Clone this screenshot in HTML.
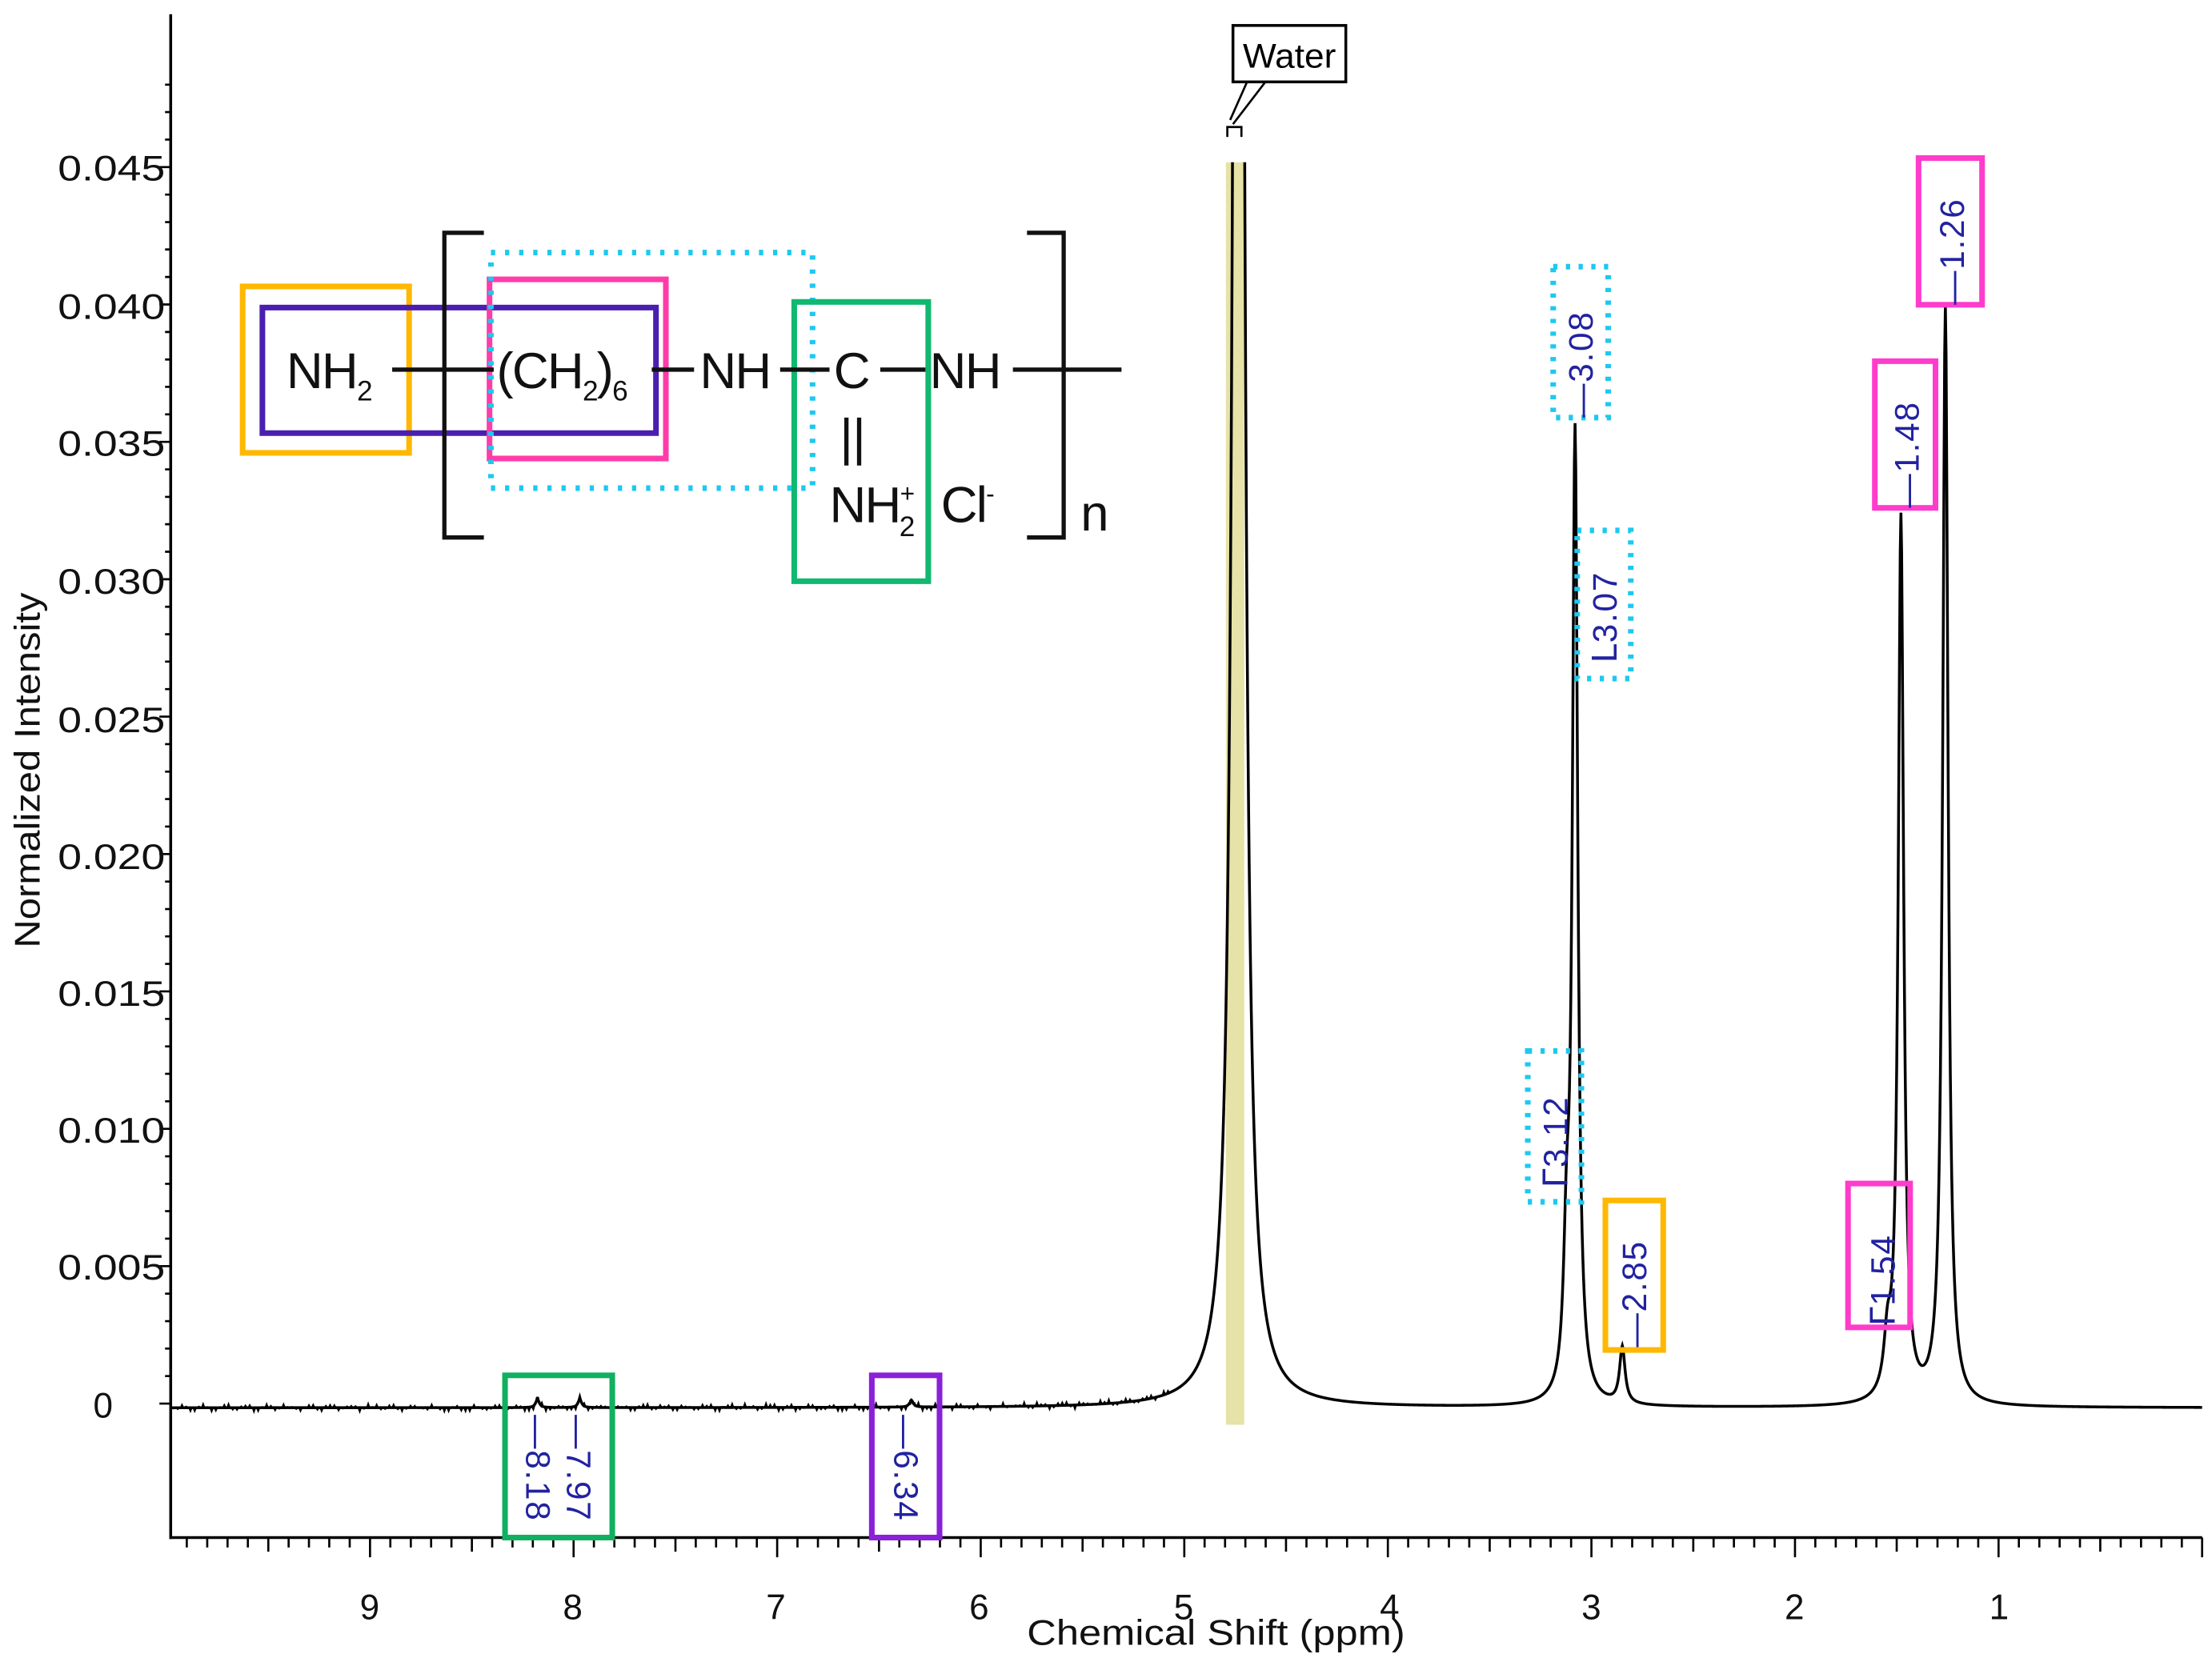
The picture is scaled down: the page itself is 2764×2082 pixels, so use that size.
<!DOCTYPE html>
<html><head><meta charset="utf-8"><style>
html,body{margin:0;padding:0;background:#fff}
svg{display:block}
text{font-family:"Liberation Sans",Arial,sans-serif}
</style></head><body>
<svg id="s" width="2764" height="2082" viewBox="0 0 1568 1181" xmlns="http://www.w3.org/2000/svg">
<defs><clipPath id="c"><rect x="121" y="115" width="1445" height="990"/></clipPath></defs>
<rect x="869" y="115" width="13" height="895" fill="#e6e2a8"/>
<g id="axes" stroke="#000" fill="none">
<line x1="121" y1="10" x2="121" y2="1091" stroke-width="2"/>
<line x1="120" y1="1090" x2="1561" y2="1090" stroke-width="2"/>
</g>
<g id="ticks" stroke="#000" stroke-width="1.5"></g>
<g font-size="25" fill="#111" text-anchor="end">
<text x="117" y="128" textLength="76" lengthAdjust="spacingAndGlyphs">0.045</text>
<text x="117" y="226" textLength="76" lengthAdjust="spacingAndGlyphs">0.040</text>
<text x="117" y="323" textLength="76" lengthAdjust="spacingAndGlyphs">0.035</text>
<text x="117" y="421" textLength="76" lengthAdjust="spacingAndGlyphs">0.030</text>
<text x="117" y="519" textLength="76" lengthAdjust="spacingAndGlyphs">0.025</text>
<text x="117" y="616" textLength="76" lengthAdjust="spacingAndGlyphs">0.020</text>
<text x="117" y="713" textLength="76" lengthAdjust="spacingAndGlyphs">0.015</text>
<text x="117" y="810" textLength="76" lengthAdjust="spacingAndGlyphs">0.010</text>
<text x="117" y="907" textLength="76" lengthAdjust="spacingAndGlyphs">0.005</text>
<text x="80" y="1005">0</text>
</g>
<g font-size="25" fill="#111" text-anchor="middle">
<text x="262" y="1148">9</text><text x="406" y="1148">8</text><text x="550" y="1148">7</text><text x="694" y="1148">6</text><text x="839" y="1148">5</text><text x="985" y="1148">4</text><text x="1128" y="1148">3</text><text x="1272" y="1148">2</text><text x="1417" y="1148">1</text>
<text x="862" y="1166" textLength="268" lengthAdjust="spacingAndGlyphs">Chemical Shift (ppm)</text>
<text transform="translate(28,546) rotate(-90)" textLength="252" lengthAdjust="spacingAndGlyphs">Normalized Intensity</text>
</g>
<path id="spec" d="" stroke="#000" stroke-width="2" fill="none" clip-path="url(#c)"/>
<rect x="874" y="18" width="80" height="40" fill="#fff" stroke="#000" stroke-width="2"/>
<text x="914" y="48" font-size="24" text-anchor="middle" textLength="66" lengthAdjust="spacingAndGlyphs">Water</text>
<path d="M884 58 L872 85 M897 58 L874 88 M870 97 L870 90 L880 90 L880 97" stroke="#000" stroke-width="1.5" fill="none"/>
<g fill="none" stroke-width="4">
<rect x="1101" y="189" width="39" height="107" stroke="#1ec8f0" stroke-dasharray="3 6"/>
<rect x="1118" y="376" width="38" height="105" stroke="#1ec8f0" stroke-dasharray="3 6"/>
<rect x="1083" y="745" width="38" height="107" stroke="#1ec8f0" stroke-dasharray="3 6"/>
<rect x="1138" y="851" width="41" height="106" stroke="#ffb800"/>
<rect x="1310" y="839" width="44" height="102" stroke="#ff3ccc"/>
<rect x="1329" y="256" width="43" height="104" stroke="#ff3ccc"/>
<rect x="1360" y="112" width="45" height="104" stroke="#ff3ccc"/>
<rect x="358" y="975" width="76" height="115" stroke="#10b060"/>
<rect x="618" y="975" width="48" height="115" stroke="#8a20d8"/>
</g>
<g font-size="24" fill="#2222a0" letter-spacing="1">
<text transform="translate(1129,296) rotate(-90)">—3.08</text>
<text transform="translate(1146,470) rotate(-90)">ᒪ3.07</text>
<text transform="translate(1111,842) rotate(-90)">ᒥ3.12</text>
<text transform="translate(1167,955) rotate(-90)">—2.85</text>
<text transform="translate(1343,940) rotate(-90)">ᒥ1.54</text>
<text transform="translate(1360,360) rotate(-90)">—1.48</text>
<text transform="translate(1392,216) rotate(-90)">—1.26</text>
<text transform="translate(373,1003) rotate(90)">—8.18</text>
<text transform="translate(402,1003) rotate(90)">—7.97</text>
<text transform="translate(634,1003) rotate(90)">—6.34</text>
</g>
<g fill="none" stroke-width="4">
<rect x="172" y="203" width="118" height="118" stroke="#ffb800"/>
<rect x="186" y="218" width="279" height="89" stroke="#4a1fb0"/>
<rect x="347" y="198" width="125" height="127" stroke="#ff3ca8"/>
<rect x="348" y="179" width="228" height="167" stroke="#1ec8f0" stroke-dasharray="3 7"/>
<rect x="563" y="214" width="95" height="198" stroke="#10b870"/>
</g>
<g stroke="#111" stroke-width="3" fill="none">
<path d="M343 165 H315 V381 H343"/>
<path d="M728 165 H754 V381 H728"/>
<line x1="278" y1="262" x2="350" y2="262"/>
<line x1="462" y1="262" x2="492" y2="262"/>
<line x1="553" y1="262" x2="588" y2="262"/>
<line x1="624" y1="262" x2="656" y2="262"/>
<line x1="718" y1="262" x2="795" y2="262"/>
<line x1="600" y1="296" x2="600" y2="330"/>
<line x1="609" y1="296" x2="609" y2="330"/>
</g>
<g font-size="36" fill="#111" letter-spacing="-1">
<text x="203" y="275">NH<tspan font-size="20" dy="9">2</tspan></text>
<text x="352" y="275">(CH<tspan font-size="20" dy="9">2</tspan><tspan dy="-9">)</tspan><tspan font-size="20" dy="9">6</tspan></text>
<text x="496" y="275">NH</text>
<text x="591" y="275">C</text>
<text x="659" y="275">NH</text>
<text x="588" y="370">NH<tspan font-size="18" dy="-14">+</tspan><tspan font-size="20" dx="-10" dy="24">2</tspan></text>
<text x="667" y="370">Cl<tspan font-size="18" dy="-14">-</tspan></text>
<text x="766" y="376">n</text>
</g>
</svg>
<script>
(function(){
var NS="http://www.w3.org/2000/svg",t=document.getElementById('ticks'),d='';
function ln(a,b,c,e){d+='M'+a+' '+b+'L'+c+' '+e;}
for(var i=0;i<=99;i++){var x=1561-14.43*i;var L=(i%10==0)?14:(i%5==0?10:7);ln(x.toFixed(1),1090,x.toFixed(1),1090+L);}
for(var v=0;v<=48;v++){var y=995-19.48*v;if(y<15)break;var L=(v%5==0)?8:4;ln(121-L,y.toFixed(1),121,y.toFixed(1));}
var p=document.createElementNS(NS,'path');p.setAttribute('d',d);t.appendChild(p);
var pk=[[878,2500,3.2],[1116.5,684,2.3],[1110.5,90,2.5],[1150,40,2.3],[1338,36,3],[1347.5,627,2.3],[1379,778,2.3],[381,6,1.5],[411,6,1.5],[646,5,1.5]];
var s='';
for(var x=121;x<=1561;x+=0.5){var y=998;for(var k=0;k<pk.length;k++){var q=pk[k],dx=x-q[0];y-=q[1]*q[2]*q[2]/(q[2]*q[2]+dx*dx);}
if(x<830&&Math.floor(x)%3==0&&x%1==0)y+=(Math.sin(x*12.9898)*43758.5453%1)*1.5;
s+=(x==121?'M':'L')+x+' '+y.toFixed(2);}
document.getElementById('spec').setAttribute('d',s);
})();
</script>
</body></html>
